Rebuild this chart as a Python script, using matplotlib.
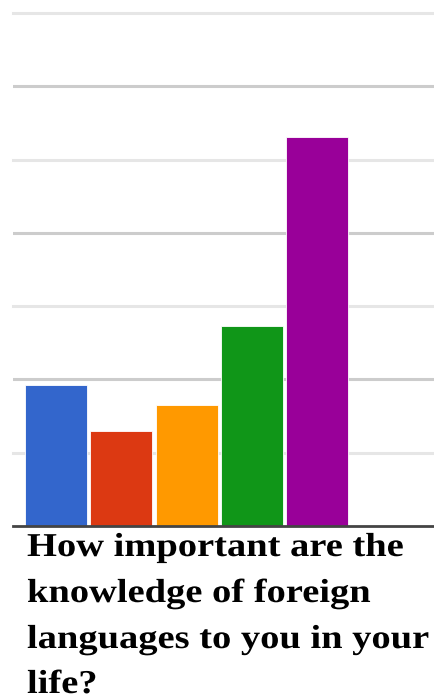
import matplotlib
matplotlib.use("Agg")
import matplotlib.pyplot as plt
from matplotlib import patheffects
from matplotlib.transforms import Affine2D

# Survey responses, one bar per answer option (in gridline units)
categories = ["A", "B", "C", "D", "E"]
values = [1.92, 1.30, 1.65, 2.73, 5.31]
colors = ["#3366cc", "#dc3912", "#ff9900", "#109618", "#990099"]
title_lines = [
    "How important are the",
    "knowledge of foreign",
    "languages to you in your",
    "life?",
]


class StretchX(patheffects.AbstractPathEffect):
    """Widen glyphs horizontally about a fixed x position (display pixels)."""

    def __init__(self, sx, x0):
        super().__init__()
        self.sx = sx
        self.x0 = x0

    def draw_path(self, renderer, gc, tpath, affine, rgbFace=None):
        t = affine + Affine2D().translate(-self.x0, 0).scale(self.sx, 1).translate(self.x0, 0)
        renderer.draw_path(gc, tpath, t, rgbFace)


W, H, DPI = 435, 697, 100
fig = plt.figure(figsize=(W / DPI, H / DPI), dpi=DPI)
ax = fig.add_axes([13 / W, (H - 526) / H, 1 - 13 / W, (526 - 13) / H])

x = list(range(len(categories)))
ax.set_xlim(-0.658, 5.80)
ax.set_ylim(0, 7)

# gridlines: darker major, lighter minor
for y in [1, 3, 5, 7]:
    ax.axhline(y, color="#e6e6e6", lw=2.2, zorder=0, clip_on=False)
for y in [2, 4, 6]:
    ax.axhline(y, color="#cccccc", lw=2.2, zorder=0)

ax.bar(x, values, width=0.95, color=colors, edgecolor="white", linewidth=0.6, zorder=2)
ax.axhline(0, color="#444444", lw=2.0, zorder=3, clip_on=False)

for s in ax.spines.values():
    s.set_visible(False)
ax.set_xticks([])
ax.set_yticks([])

x_left = 27
baselines = [556, 602, 648, 693]
for line, yb in zip(title_lines, baselines):
    fig.text(x_left / W, 1 - yb / H, line, family="Liberation Serif", weight="bold",
             fontsize=24, color="black", va="baseline", ha="left",
             path_effects=[StretchX(1.155, x_left)])

fig.savefig("out.png", dpi=DPI, facecolor="white")
